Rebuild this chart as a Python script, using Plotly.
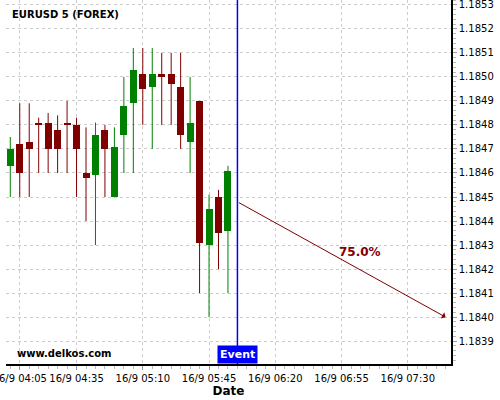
import plotly.graph_objects as go

times = ["04:00", "04:05", "04:10", "04:15", "04:20", "04:25", "04:30", "04:35",
         "04:40", "04:45", "04:50", "04:55", "05:00", "05:05", "05:10", "05:15",
         "05:20", "05:25", "05:30", "05:35", "05:40", "05:45", "05:50", "05:55"]
opens  = [1.18463, 1.18472, 1.18473, 1.18481, 1.18481, 1.18478, 1.18481, 1.18480,
          1.18460, 1.18459, 1.18478, 1.18450, 1.18476, 1.18489, 1.18501, 1.18496,
          1.18501, 1.18501, 1.18496, 1.18473, 1.18490, 1.18430, 1.18450, 1.18436]
highs  = [1.18475, 1.18489, 1.18489, 1.18483, 1.18485, 1.18484, 1.18490, 1.18483,
          1.18479, 1.18481, 1.18480, 1.18479, 1.18500, 1.18512, 1.18512, 1.18512,
          1.18510, 1.18510, 1.18510, 1.18500, 1.18490, 1.18451, 1.18453, 1.18463]
lows   = [1.18450, 1.18450, 1.18450, 1.18460, 1.18460, 1.18460, 1.18460, 1.18450,
          1.18440, 1.18430, 1.18450, 1.18450, 1.18460, 1.18460, 1.18480, 1.18470,
          1.18480, 1.18480, 1.18470, 1.18460, 1.18410, 1.18400, 1.18420, 1.18410]
closes = [1.18470, 1.18460, 1.18470, 1.18480, 1.18470, 1.18470, 1.18480, 1.18470,
          1.18458, 1.18476, 1.18470, 1.18471, 1.18488, 1.18503, 1.18495, 1.18501,
          1.18500, 1.18497, 1.18476, 1.18481, 1.18431, 1.18445, 1.18435, 1.18461]

x_tick_times = ["04:05", "04:35", "05:10", "05:45", "06:20", "06:55", "07:30"]
day = "2021-09-16"
event_time = "06:00"
arrow_start = ("06:00", 1.18448)
arrow_end = ("07:50", 1.18400)
pct_label = "75.0%"
pct_pos = ("07:05", 1.18427)

GREEN = "#008000"
RED = "#800000"

def ts(t):
    return f"{day} {t}:00"

xs = [ts(t) for t in times]

fig = go.Figure()

# wicks
for col, cond in ((GREEN, True), (RED, False)):
    wx, wy = [], []
    for x, o, h, l, c in zip(xs, opens, highs, lows, closes):
        if (c >= o) == cond:
            wx += [x, x, None]
            wy += [l, h, None]
    fig.add_trace(go.Scatter(x=wx, y=wy, mode="lines", line=dict(color=col, width=1),
                             hoverinfo="skip", showlegend=False))

# bodies
for col, cond in ((GREEN, True), (RED, False)):
    bx, bb, bh = [], [], []
    for x, o, c in zip(xs, opens, closes):
        if (c >= o) == cond:
            bx.append(x)
            bb.append(min(o, c))
            bh.append(abs(c - o))
    fig.add_trace(go.Bar(x=bx, y=bh, base=bb, width=222000, marker=dict(color=col, line=dict(width=0)),
                         showlegend=False))

fig.add_shape(type="line", x0=ts(event_time), x1=ts(event_time), y0=0, y1=1,
              xref="x", yref="paper", line=dict(color="#0000ff", width=1.5))

fig.add_annotation(x=ts(arrow_end[0]), y=arrow_end[1], ax=ts(arrow_start[0]), ay=arrow_start[1],
                   xref="x", yref="y", axref="x", ayref="y", text="", showarrow=True,
                   arrowhead=1, arrowsize=1.2, arrowwidth=1, arrowcolor=RED)
fig.add_annotation(x=ts(pct_pos[0]), y=pct_pos[1], text=f"<b>{pct_label}</b>", showarrow=False,
                   font=dict(family="DejaVu Sans", size=12, color=RED), xref="x", yref="y")

fig.add_annotation(x=ts(event_time), y=0, xref="x", yref="paper", yanchor="bottom",
                   text="<b>Event</b>", showarrow=False, bgcolor="#0000ff", borderpad=2,
                   font=dict(family="DejaVu Sans", size=11, color="white"))

fig.add_annotation(x=0.009, y=0.959, xref="paper", yref="paper", xanchor="left", yanchor="middle",
                   text="<b>EURUSD 5 (FOREX)</b>", showarrow=False,
                   font=dict(family="DejaVu Sans", size=10, color="black"))
fig.add_annotation(x=0.02, y=0.028, xref="paper", yref="paper", xanchor="left", yanchor="middle",
                   text="<b>www.delkos.com</b>", showarrow=False,
                   font=dict(family="DejaVu Sans", size=10, color="black"))

fig.update_layout(
    width=500, height=400,
    margin=dict(l=6, r=49, t=0, b=36),
    paper_bgcolor="white", plot_bgcolor="white",
    font=dict(family="DejaVu Sans", size=10, color="black"),
    barmode="overlay",
    bargap=0,
)
fig.update_xaxes(
    automargin=False,
    range=[f"{day} 03:57:44", f"{day} 07:52:50"],
    tickvals=[ts(t) for t in x_tick_times],
    ticktext=[f"16/9 {t}" for t in x_tick_times],
    ticklabeloverflow="allow",
    showgrid=True, gridcolor="#cccccc", griddash="3px,3px", gridwidth=1,
    showline=True, linecolor="black", linewidth=1.5,
    ticks="outside", ticklen=4, tickcolor="#999999",
    minor=dict(dtick=300000, tick0=f"{day} 04:00:00", ticks="outside", ticklen=3,
               tickcolor="#bbbbbb", showgrid=False),
    title=dict(text="<b>Date</b>", font=dict(family="DejaVu Sans", size=12), standoff=2),
    zeroline=False,
)
fig.update_yaxes(
    automargin=False,
    side="right",
    range=[1.183805, 1.18532],
    dtick=0.0001, tick0=1.1839, tickformat=".4f",
    ticklabeloverflow="allow",
    showgrid=True, gridcolor="#cccccc", griddash="3px,3px", gridwidth=1,
    showline=True, linecolor="black", linewidth=1.5,
    ticks="outside", ticklen=4, tickcolor="#999999",
    minor=dict(dtick=0.00002, ticks="outside", ticklen=3, tickcolor="#bbbbbb", showgrid=False),
    zeroline=False,
)

fig.write_html("out.html", config={"displayModeBar": False},
               post_script="document.body.style.margin='0';document.body.style.padding='0';")
